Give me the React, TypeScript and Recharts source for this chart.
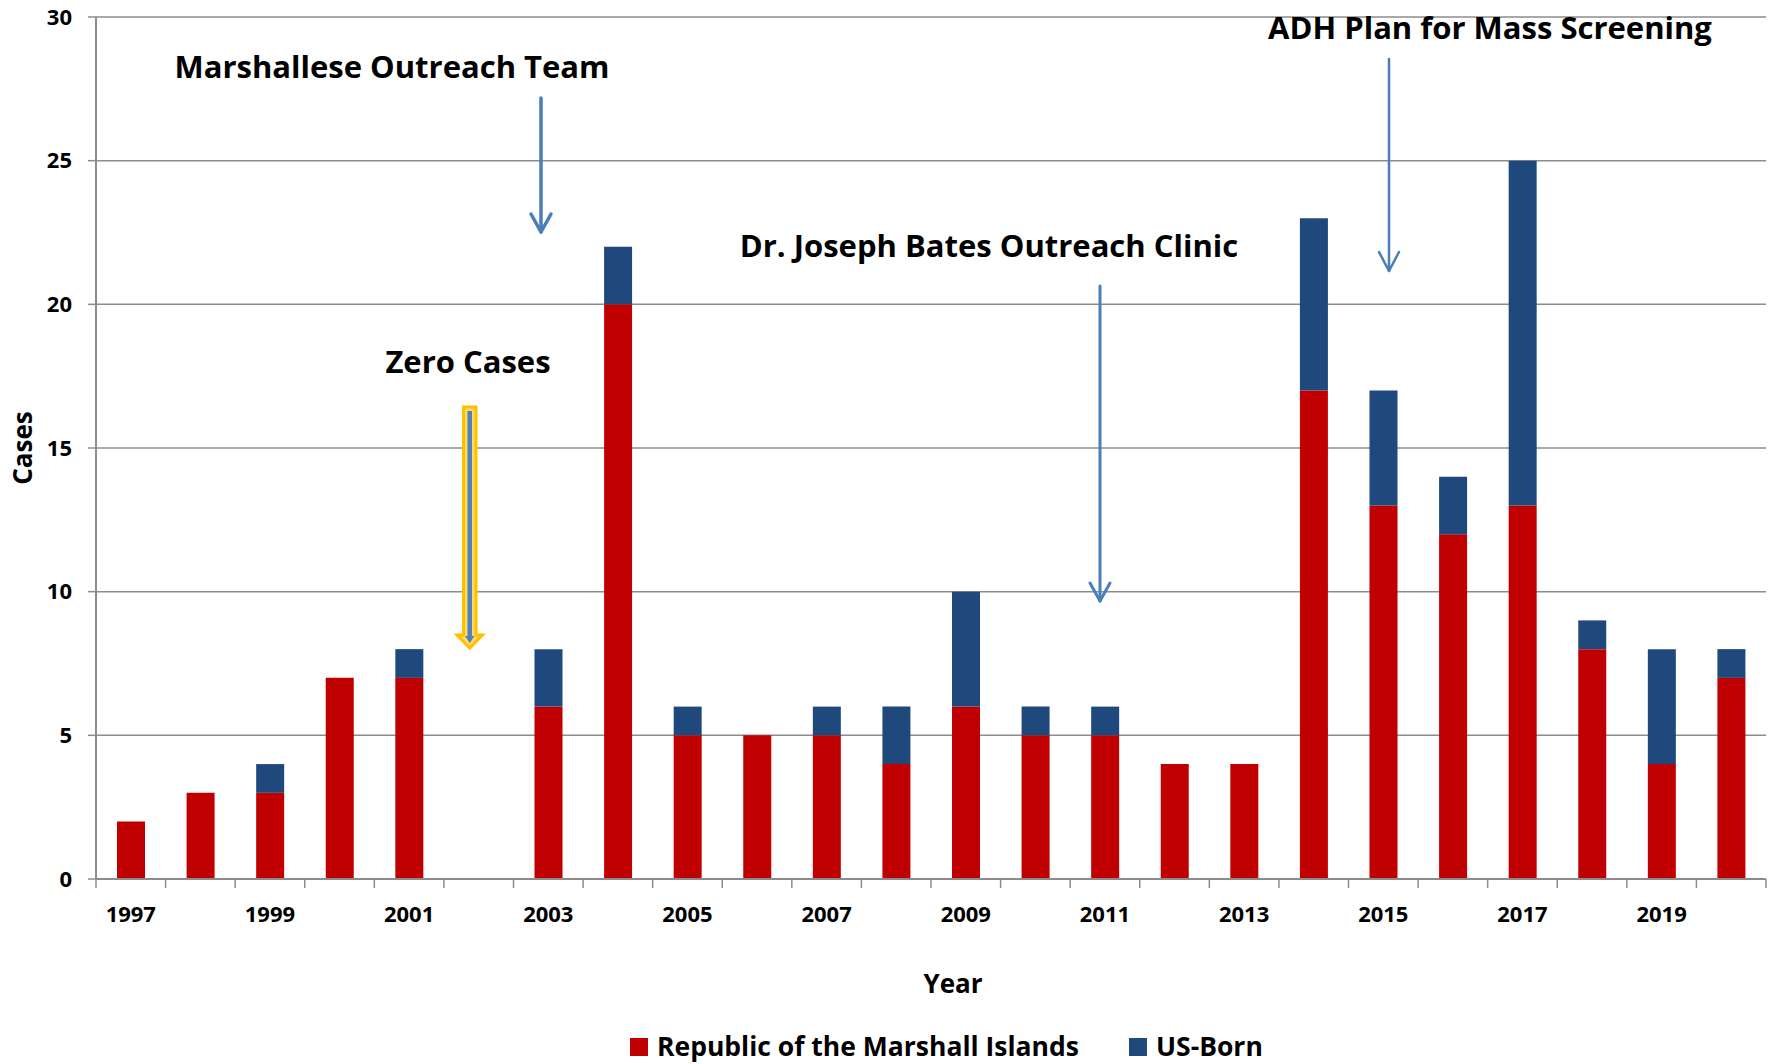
import React from 'react';
import { BarChart, Bar, XAxis, YAxis, CartesianGrid, Label } from 'recharts';

// ---------- data ----------
const years = ['1997', '1998', '1999', '2000', '2001', '2002', '2003', '2004', '2005', '2006', '2007', '2008',
  '2009', '2010', '2011', '2012', '2013', '2014', '2015', '2016', '2017', '2018', '2019', '2020'];
const rmiCases = [2, 3, 3, 7, 7, 0, 6, 20, 5, 5, 5, 4, 6, 5, 5, 4, 4, 17, 13, 12, 13, 8, 4, 7];
const usBornCases = [0, 0, 1, 0, 1, 0, 2, 2, 1, 0, 1, 2, 4, 1, 1, 0, 0, 6, 4, 2, 12, 1, 4, 1];
const yTicks = [0, 5, 10, 15, 20, 25, 30];
const seriesNames = ['Republic of the Marshall Islands', 'US-Born'];
const seriesKeys = ['rmi', 'us'];
const seriesColors = ['#C00000', '#1F497D'];

const data = years.map((y, i) => ({ year: y, rmi: rmiCases[i], us: usBornCases[i] }));

// ---------- layout ----------
const W = 1773;
const H = 1064;
const MARGIN = { top: 17, right: 7, left: 0, bottom: 0 };
const Y_AXIS_W = 96;
const X_AXIS_H = 185;
const BAND = (W - MARGIN.left - MARGIN.right - Y_AXIS_W) / years.length;
const FONT = '"Open Sans", Lato, "DejaVu Sans", sans-serif';
const GRAY = '#8C8C8C';
const ARROW_BLUE = '#4A7EBB';

const XTick = (props: any) => {
  const { x, y, payload, index } = props;
  const half = BAND / 2;
  return (
    <g>
      <line x1={x - half} x2={x - half} y1={y} y2={y + 9} stroke={GRAY} strokeWidth={1.5} />
      {index === years.length - 1 && (
        <line x1={x + half} x2={x + half} y1={y} y2={y + 9} stroke={GRAY} strokeWidth={1.5} />
      )}
      {index % 2 === 0 && (
        <text x={x} y={y + 34} textAnchor="middle" dominantBaseline="central"
          fontFamily={FONT} fontWeight={700} fontSize={22} fill="#000">
          {payload.value}
        </text>
      )}
    </g>
  );
};

const OpenArrow = ({ x, y1, y2, w, hw, hh }: any) => (
  <g stroke={ARROW_BLUE} strokeWidth={w} fill="none" strokeLinecap="round" strokeLinejoin="round">
    <line x1={x} x2={x} y1={y1} y2={y2} />
    <polyline points={`${x - hw},${y2 - hh} ${x},${y2} ${x + hw},${y2 - hh}`} />
  </g>
);

const annText = { fontFamily: FONT, fontWeight: 700, fontSize: 31, fill: '#000', textAnchor: 'middle' as const, dominantBaseline: 'central' as const };

export default function App() {
  return (
    <div style={{ position: 'absolute', left: 0, top: 0, width: W, height: H, background: '#fff' }}>
      <BarChart width={W} height={H} data={data} margin={MARGIN} barSize={28}>
        <CartesianGrid vertical={false} stroke={GRAY} strokeWidth={1.5} />
        <XAxis dataKey="year" height={X_AXIS_H} interval={0} tickSize={0} tickMargin={0}
          axisLine={{ stroke: GRAY, strokeWidth: 2 }} tickLine={false} tick={<XTick />}>
          <Label content={(p: any) => {
            const vb = p.viewBox;
            return (
              <text x={953} y={vb.y + 104} textAnchor="middle" dominantBaseline="central"
                fontFamily={FONT} fontWeight={700} fontSize={26} fill="#000">Year</text>
            );
          }} />
        </XAxis>
        <YAxis width={Y_AXIS_W} domain={[0, 30]} ticks={yTicks} interval={0} tickSize={8} tickMargin={16}
          axisLine={{ stroke: GRAY, strokeWidth: 2 }} tickLine={{ stroke: GRAY, strokeWidth: 1.5 }}
          tick={{ fontFamily: FONT, fontWeight: 700, fontSize: 22, fill: '#000' }}>
          <Label content={(p: any) => {
            const vb = p.viewBox;
            const cx = 22;
            const cy = vb.y + vb.height / 2;
            return (
              <text x={cx} y={cy} transform={`rotate(-90 ${cx} ${cy})`} textAnchor="middle" dominantBaseline="central"
                fontFamily={FONT} fontWeight={700} fontSize={26} fill="#000">Cases</text>
            );
          }} />
        </YAxis>
        {seriesKeys.map((k, i) => (
          <Bar key={k} dataKey={k} name={seriesNames[i]} stackId="a" fill={seriesColors[i]} isAnimationActive={false} />
        ))}
      </BarChart>

      <svg width={W} height={H} style={{ position: 'absolute', left: 0, top: 0, pointerEvents: 'none' }}>
        {/* Marshallese Outreach Team */}
        <text x={392} y={66} {...annText}>Marshallese Outreach Team</text>
        <OpenArrow x={541} y1={98} y2={232} w={3.5} hw={10} hh={18} />

        {/* Zero Cases */}
        <text x={468} y={361} {...annText}>Zero Cases</text>
        <polygon points="463.5,407 476,407 476,635 482.5,635 469.75,648 457,635 463.5,635"
          fill="#FFD966" stroke="#FFC000" strokeWidth={3} strokeLinejoin="miter" />
        <line x1={469.75} x2={469.75} y1={411} y2={637} stroke="#4F81BD" strokeWidth={4.5} />
        <polygon points="465,636 474.5,636 469.75,643" fill="#4F81BD" />

        {/* Dr. Joseph Bates Outreach Clinic */}
        <text x={989} y={245} {...annText}>Dr. Joseph Bates Outreach Clinic</text>
        <OpenArrow x={1100} y1={286} y2={601} w={3} hw={10} hh={18} />

        {/* ADH Plan for Mass Screening */}
        <text x={1490} y={27} {...annText}>ADH Plan for Mass Screening</text>
        <OpenArrow x={1389} y1={59} y2={271} w={2.5} hw={10} hh={19} />

        {/* Legend */}
        {seriesNames.map((n, i) => {
          const lx = i === 0 ? 630 : 1129;
          return (
            <g key={n}>
              <rect x={lx} y={1038} width={18} height={18} fill={seriesColors[i]} />
              <text x={lx + 27} y={1046} dominantBaseline="central" fontFamily={FONT} fontWeight={700}
                fontSize={26.5} fill="#000">{n}</text>
            </g>
          );
        })}
      </svg>
    </div>
  );
}
